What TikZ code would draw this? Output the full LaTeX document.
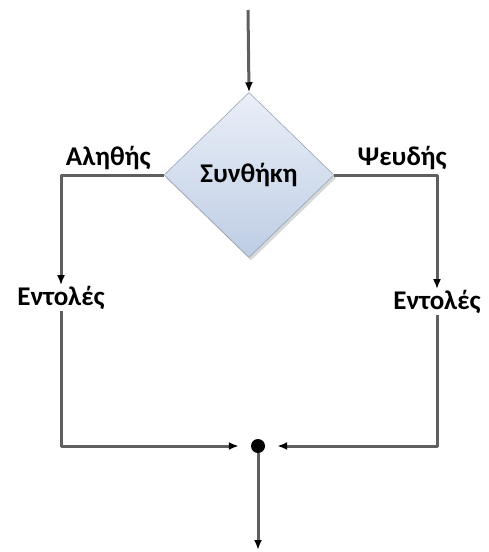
\documentclass[tikz,border=0pt]{standalone}
\usepackage{fontspec}
\setmainfont{Carlito}
\usetikzlibrary{arrows.meta, shapes.geometric, shadows}

\tikzset{
  flow/.style={draw=cLine, line width=3pt, -{Latex[black, length=10pt, width=8pt]}},
  lbl/.style={font=\bfseries\fontsize{27}{30}\selectfont, text=black, inner sep=1pt},
}

\begin{document}
\begin{tikzpicture}[x=1pt, y=-1pt, line join=round]
          \definecolor{cLine}{RGB}{95, 95, 95}
          \definecolor{cTop}{RGB}{234, 239, 248}
          \definecolor{cBot}{RGB}{190, 205, 228}

          \useasboundingbox (0,0) rectangle (488,552);

          \coordinate (start) at (248, 10);
          \coordinate (end) at (258, 550);

          \node[diamond, minimum width=170pt, minimum height=165pt, inner sep=0pt,
                top color=cTop, bottom color=cBot, draw=cBot!75!black, line width=0.5pt,
                drop shadow={shadow xshift=2pt, shadow yshift=-3pt, fill=gray!60, opacity=0.5},
                lbl, font=\bfseries\fontsize{27}{30}\selectfont] (cond) at (249, 175) {Συνθήκη};

          \node[lbl] (actL) at (61, 298) {Εντολές};
          \node[lbl] (actR) at (437, 302) {Εντολές};
          \node[circle, fill=black, inner sep=0pt, minimum size=14pt] (join) at (258, 446) {};

          \draw[flow] (start) -- (cond.north);
          \draw[flow] (cond.west) -| node[pos=0.27, above=3pt, lbl]{Αληθής} (actL.north);
          \draw[flow] (cond.east) -| node[pos=0.33, above=3pt, lbl]{Ψευδής} (actR.north);
          \draw[flow, shorten >=12pt] (actL.south) |- (join);
          \draw[flow, shorten >=12pt] (actR.south) |- (join);
          \draw[flow] (join) -- (end);
        \end{tikzpicture}
\end{document}
